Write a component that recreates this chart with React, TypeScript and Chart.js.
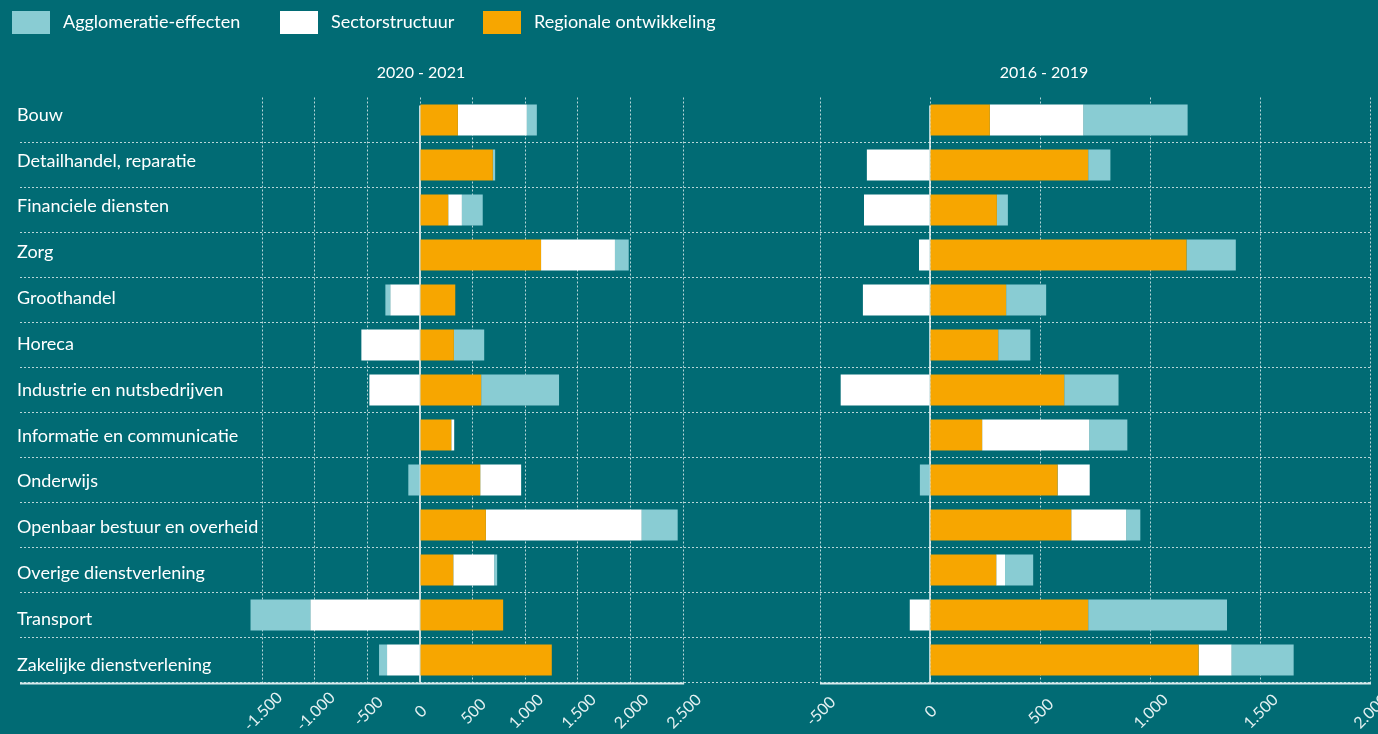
import { useEffect, useRef } from 'react';
import { Chart, registerables } from 'chart.js';

Chart.register(...registerables);

const categories = [
  'Bouw',
  'Detailhandel, reparatie',
  'Financiele diensten',
  'Zorg',
  'Groothandel',
  'Horeca',
  'Industrie en nutsbedrijven',
  'Informatie en communicatie',
  'Onderwijs',
  'Openbaar bestuur en overheid',
  'Overige dienstverlening',
  'Transport',
  'Zakelijke dienstverlening',
];

const seriesLabels = ['Regionale ontwikkeling', 'Sectorstructuur', 'Agglomeratie-effecten'];
const seriesColors = ['#F7A600', '#FFFFFF', '#89CCD3'];

// 2020 - 2021
const regionaal2021 = [360, 692, 268, 1150, 335, 322, 581, 297, 572, 626, 316, 790, 1252];
const sector2021 = [655, 0, 130, 702, -282, -557, -481, 28, 389, 1480, 389, -1041, -313];
const agglo2021 = [95, 22, 198, 131, -47, 288, 740, 0, -111, 342, 28, -569, -76];

// 2016 - 2019
const regionaal2019 = [272, 719, 304, 1166, 346, 310, 610, 237, 580, 642, 301, 719, 1221];
const sector2019 = [425, -287, -300, -50, -305, 0, -406, 487, 146, 250, 40, -92, 150];
const agglo2019 = [474, 101, 50, 224, 182, 146, 247, 173, -46, 64, 128, 631, 282];

const ticks2021 = [-1500, -1000, -500, 0, 500, 1000, 1500, 2000, 2500];
const ticks2019 = [-500, 0, 500, 1000, 1500, 2000];

const BG = '#016b74';
const GRID = 'rgba(255,255,255,0.72)';
const FONT = 'Lato, "Open Sans", sans-serif';
const LEGEND_X = [12, 280, 483];

function fmt(v: number): string {
  const s = Math.abs(v).toString().replace(/\B(?=(\d{3})+(?!\d))/g, '.');
  return (v < 0 ? '-' : '') + s;
}

const decorPlugin = {
  id: 'decor',
  beforeDatasetsDraw(chart: any, _args: any, opts: any) {
    const { ctx, chartArea } = chart;
    const x = chart.scales.x;
    const zx = x.getPixelForValue(0);
    ctx.save();
    ctx.strokeStyle = opts.zeroColor;
    ctx.lineWidth = opts.zeroWidth;
    ctx.beginPath();
    ctx.moveTo(zx, chartArea.top + 8);
    ctx.lineTo(zx, chartArea.bottom);
    ctx.stroke();
    ctx.restore();
  },
  afterDraw(chart: any, _args: any, opts: any) {
    const { ctx, chartArea } = chart;
    const x = chart.scales.x;
    ctx.save();
    // bottom axis line
    const last = opts.ticks[opts.ticks.length - 1];
    ctx.strokeStyle = '#d6eaec';
    ctx.lineWidth = 2;
    ctx.beginPath();
    ctx.moveTo(chartArea.left, chartArea.bottom + 1);
    ctx.lineTo(x.getPixelForValue(last) + 1, chartArea.bottom + 1);
    ctx.stroke();
    // rotated x tick labels, centred under each tick
    ctx.fillStyle = '#e3f0f1';
    ctx.font = `16px ${FONT}`;
    ctx.textAlign = 'center';
    ctx.textBaseline = 'middle';
    x.ticks.forEach((t: any) => {
      const px = x.getPixelForValue(t.value);
      ctx.save();
      ctx.translate(px + 1, chartArea.bottom + 29);
      ctx.rotate(-Math.PI / 4);
      ctx.fillText(fmt(t.value), 0, 0);
      ctx.restore();
    });
    // title
    ctx.fillStyle = '#ffffff';
    ctx.font = `16px ${FONT}`;
    ctx.textAlign = 'center';
    ctx.textBaseline = 'middle';
    ctx.fillText(opts.title, opts.titleX, 73);
    // legend
    if (opts.legend) {
      ctx.font = `18px ${FONT}`;
      ctx.textAlign = 'left';
      [2, 1, 0].forEach((i, k) => {
        const ds = chart.data.datasets[i];
        const lx = LEGEND_X[k];
        ctx.fillStyle = ds.backgroundColor;
        ctx.fillRect(lx, 11, 38, 23);
        ctx.fillStyle = '#ffffff';
        ctx.fillText(ds.label, lx + 51, 22);
      });
    }
    ctx.restore();
  },
};

function buildConfig(
  values: number[][],
  tickVals: number[],
  min: number,
  max: number,
  padLeft: number,
  padRight: number,
  showLabels: boolean,
  title: string,
  titleX: number,
  legend: boolean,
  zeroColor: string,
  zeroWidth: number
): any {
  const n = categories.length;
  return {
    type: 'bar',
    data: {
      labels: categories,
      datasets: values.map((d, i) => ({
        label: seriesLabels[i],
        data: d,
        backgroundColor: seriesColors[i],
        borderWidth: 0,
        categoryPercentage: 1,
        barPercentage: 0.69,
      })),
    },
    plugins: [decorPlugin],
    options: {
      indexAxis: 'y',
      animation: false,
      responsive: false,
      maintainAspectRatio: false,
      layout: { padding: { left: padLeft, right: padRight, top: 97.5, bottom: 0 } },
      plugins: {
        legend: { display: false },
        title: { display: false },
        tooltip: { enabled: false },
        decor: { ticks: tickVals, title, titleX, legend, zeroColor, zeroWidth },
      },
      scales: {
        x: {
          stacked: true,
          min,
          max,
          afterBuildTicks: (s: any) => {
            s.ticks = tickVals.map((v) => ({ value: v }));
          },
          afterFit: (s: any) => {
            s.height = 51.5;
          },
          grid: { color: GRID, lineWidth: 1, drawTicks: false },
          border: { display: false, dash: [2, 2] },
          ticks: { display: false },
        },
        y: {
          stacked: true,
          afterFit: (s: any) => {
            s.width = 0;
          },
          grid: {
            color: (c: any) => (c.index === 0 ? 'rgba(0,0,0,0)' : GRID),
            lineWidth: 1,
            drawTicks: false,
            offset: true,
          },
          border: { display: false, dash: [2, 2] },
          ticks: { display: false },
        },
        yLabels: {
          type: 'linear',
          position: 'left',
          display: showLabels,
          offset: false,
          reverse: true,
          min: -0.382,
          max: n - 1 + 0.382,
          afterBuildTicks: (s: any) => {
            s.ticks = categories.map((_c, i) => ({ value: i }));
          },
          afterFit: (s: any) => {
            s.width = 0;
          },
          grid: { display: false, drawTicks: false, offset: false },
          border: { display: false },
          ticks: {
            mirror: true,
            padding: -3,
            color: '#ffffff',
            font: { family: FONT, size: 18 },
            autoSkip: false,
            callback: (v: number) => categories[Math.round(v)] ?? '',
          },
        },
      },
    },
  };
}

export default function App() {
  const leftRef = useRef<HTMLCanvasElement>(null);
  const rightRef = useRef<HTMLCanvasElement>(null);

  useEffect(() => {
    const c1 = new Chart(
      leftRef.current as HTMLCanvasElement,
      buildConfig(
        [regionaal2021, sector2021, agglo2021],
        ticks2021,
        -3800,
        3800,
        20,
        10,
        true,
        '2020 - 2021',
        421,
        true,
        '#c4dde0',
        2
      )
    );
    const c2 = new Chart(
      rightRef.current as HTMLCanvasElement,
      buildConfig(
        [regionaal2019, sector2019, agglo2019],
        ticks2019,
        -500,
        2000,
        100,
        30,
        false,
        '2016 - 2019',
        324,
        false,
        '#f2f8f8',
        1.5
      )
    );
    return () => {
      c1.destroy();
      c2.destroy();
    };
  }, []);

  return (
    <div
      style={{
        position: 'fixed',
        left: 0,
        top: 0,
        width: 1378,
        height: 734,
        background: BG,
        overflow: 'hidden',
      }}
    >
      <canvas
        ref={leftRef}
        width={830}
        height={734}
        style={{ position: 'absolute', left: 0, top: 0, width: 830, height: 734 }}
      />
      <canvas
        ref={rightRef}
        width={680}
        height={734}
        style={{ position: 'absolute', left: 720, top: 0, width: 680, height: 734 }}
      />
    </div>
  );
}
